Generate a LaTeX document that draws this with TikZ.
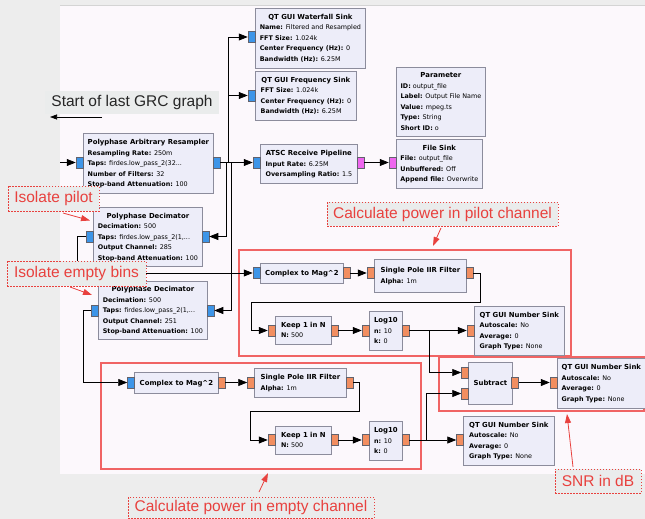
\documentclass[tikz,border=0pt]{standalone}
\usepackage{fontspec}
\setmainfont{DejaVu Sans}
\newfontfamily\annfont{Liberation Sans}
\usetikzlibrary{arrows.meta}
\definecolor{outerbg}{HTML}{EDEDED}
\definecolor{canvasbg}{HTML}{FCF8FC}
\definecolor{canvasline}{HTML}{D4D4D4}
\definecolor{blkfill}{HTML}{EDEDF9}
\definecolor{blkdraw}{HTML}{8C8C9C}
\definecolor{portblue}{HTML}{3D95E8}
\definecolor{portorange}{HTML}{F28E60}
\definecolor{portmag}{HTML}{EE66EE}
\definecolor{redbox}{HTML}{F06464}
\definecolor{redtxt}{HTML}{E8413E}
\definecolor{labelbg}{HTML}{EAECEC}
\newcommand{\ttl}[1]{\multicolumn{1}{@{}c@{}}{\fontsize{6.9}{10.5}\selectfont\bfseries #1}}
\newcommand{\prm}[2]{\textbf{#1:} #2}
\newcommand{\gblock}[5]{\node[blk, minimum width=#3pt, minimum height=#4pt] (#1) at (#2) {\begin{tabular}{@{}l@{}}#5\end{tabular}};}
\tikzset{
 blk/.style={draw=blkdraw, fill=blkfill, line width=0.8pt, inner sep=0pt, anchor=north west, font=\fontsize{6.4}{10.5}\selectfont},
 port/.style={draw=blkdraw!70!black, line width=0.5pt, minimum width=7pt, minimum height=11pt, inner sep=0pt},
 pb/.style={port, fill=portblue},
 po/.style={port, fill=portorange},
 pm/.style={port, fill=portmag},
 wire/.style={line width=0.7pt, black},
 arr/.style={wire, -{Triangle[length=9pt,width=7pt]}},
 grp/.style={draw=redbox, line width=1.2pt},
 ann/.style={draw=redtxt, dash pattern=on 1.5pt off 1.5pt, line width=0.8pt, fill=labelbg, text=redtxt, font=\annfont\fontsize{15.5}{18}\selectfont, inner sep=0pt},
 annarr/.style={redtxt, line width=0.8pt, -{Triangle[length=9pt,width=6pt]}},
}
\begin{document}
\begin{tikzpicture}[x=1pt,y=-1pt]
\useasboundingbox (0,0) rectangle (645,519);
\fill[outerbg] (0,0) rectangle (645,519);
\fill[canvasbg] (60,6) rectangle (645,474);
\draw[canvasline, line width=0.8pt] (60,5.5) -- (645,5.5);

% group boxes
\draw[grp] (239,250) rectangle (571,356);
\draw[grp] (439,357) rectangle (644,411);
\draw[grp] (101,363) rectangle (421,469);

% blocks
\gblock{wf}{255,8}{110}{60}{\ttl{QT GUI Waterfall Sink}\\ \prm{Name}{Filtered and Resampled}\\ \prm{FFT Size}{1.024k}\\ \prm{Center Frequency (Hz)}{0}\\ \prm{Bandwidth (Hz)}{6.25M}}
\gblock{fs}{255,71}{101}{49}{\ttl{QT GUI Frequency Sink}\\ \prm{FFT Size}{1.024k}\\ \prm{Center Frequency (Hz)}{0}\\ \prm{Bandwidth (Hz)}{6.25M}}
\gblock{par}{396,67}{89}{69}{\ttl{Parameter}\\ \prm{ID}{output\_file}\\ \prm{Label}{Output File Name}\\ \prm{Value}{mpeg.ts}\\ \prm{Type}{String}\\ \prm{Short ID}{o}}
\gblock{atsc}{260,144}{97}{39}{\ttl{ATSC Receive Pipeline}\\ \prm{Input Rate}{6.25M}\\ \prm{Oversampling Ratio}{1.5}}
\gblock{file}{396,139}{86}{49}{\ttl{File Sink}\\ \prm{File}{output\_file}\\ \prm{Unbuffered}{Off}\\ \prm{Append file}{Overwrite}}
\gblock{ars}{83,133}{130}{60}{\ttl{Polyphase Arbitrary Resampler}\\ \prm{Resampling Rate}{250m}\\ \prm{Taps}{firdes.low\_pass\_2(32...}\\ \prm{Number of Filters}{32}\\ \prm{Stop-band Attenuation}{100}}
\gblock{dec1}{93,207}{109}{59}{\ttl{Polyphase Decimator}\\ \prm{Decimation}{500}\\ \prm{Taps}{firdes.low\_pass\_2(1,...}\\ \prm{Output Channel}{285}\\ \prm{Stop-band Attenuation}{100}}
\gblock{dec2}{98,281}{109}{58}{\ttl{Polyphase Decimator}\\ \prm{Decimation}{500}\\ \prm{Taps}{firdes.low\_pass\_2(1,...}\\ \prm{Output Channel}{251}\\ \prm{Stop-band Attenuation}{100}}
% pilot
\gblock{c2m1}{260,263}{83}{20}{\ttl{Complex to Mag\textasciicircum2}}
\gblock{iir1}{374,259}{92}{33}{\ttl{Single Pole IIR Filter}\\ \prm{Alpha}{1m}}
\gblock{keep1}{275,316}{56}{28}{\ttl{Keep 1 in N}\\ \prm{N}{500}}
\gblock{log1}{369,311}{33}{39}{\ttl{Log10}\\ \prm{n}{10}\\ \prm{k}{0}}
\gblock{ns1}{474,306}{90}{49}{\ttl{QT GUI Number Sink}\\ \prm{Autoscale}{No}\\ \prm{Average}{0}\\ \prm{Graph Type}{None}}
% snr
\gblock{sub}{468,362}{44}{42}{\ttl{Subtract}}
\gblock{ns2}{557,358}{88}{50}{\ttl{QT GUI Number Sink}\\ \prm{Autoscale}{No}\\ \prm{Average}{0}\\ \prm{Graph Type}{None}}
% empty
\gblock{c2m2}{134,372}{84}{21}{\ttl{Complex to Mag\textasciicircum2}}
\gblock{iir2}{254,368}{92}{29}{\ttl{Single Pole IIR Filter}\\ \prm{Alpha}{1m}}
\gblock{keep2}{275,426}{56}{28}{\ttl{Keep 1 in N}\\ \prm{N}{500}}
\gblock{log2}{369,421}{33}{39}{\ttl{Log10}\\ \prm{n}{10}\\ \prm{k}{0}}
\gblock{ns3}{463,416}{91}{49}{\ttl{QT GUI Number Sink}\\ \prm{Autoscale}{No}\\ \prm{Average}{0}\\ \prm{Graph Type}{None}}

% ports
\node[pb] (wfIn) at (251.5,37) {};
\node[pb] (fsIn) at (251.5,95.5) {};
\node[pb] (atscIn) at (256.5,162.5) {};
\node[pm] (atscOut) at (360.5,162.5) {};
\node[pm] (fileIn) at (392.5,162.5) {};
\node[pb] (arsIn) at (79.5,162.5) {};
\node[pb] (arsOut) at (216.5,162.5) {};
\node[pb] (dec1L) at (89.5,236.5) {};
\node[pb] (dec1R) at (205.5,236.5) {};
\node[pb] (dec2L) at (95,310.5) {};
\node[pb] (dec2R) at (210.5,310.5) {};
\node[pb] (c2m1In) at (256.5,273) {};
\node[po] (c2m1Out) at (346.5,273) {};
\node[po] (iir1In) at (370.5,273) {};
\node[po] (iir1Out) at (469.5,273) {};
\node[po] (keep1In) at (271.5,330.5) {};
\node[po] (keep1Out) at (334.5,330.5) {};
\node[po] (log1In) at (365.5,330.5) {};
\node[po] (log1Out) at (405.5,330.5) {};
\node[po] (ns1In) at (470.5,330.5) {};
\node[po] (subIn1) at (465,372.5) {};
\node[po] (subIn2) at (465,393.5) {};
\node[po] (subOut) at (515,382.5) {};
\node[po] (ns2In) at (553.5,382.5) {};
\node[pb] (c2m2In) at (131,382.5) {};
\node[po] (c2m2Out) at (221.5,382.5) {};
\node[po] (iir2In) at (251,382.5) {};
\node[po] (iir2Out) at (349.5,382.5) {};
\node[po] (keep2In) at (271.5,440) {};
\node[po] (keep2Out) at (334.5,440) {};
\node[po] (log2In) at (365.5,440) {};
\node[po] (log2Out) at (405.5,440) {};
\node[po] (ns3In) at (460,440) {};

% wires
\coordinate (srcL) at (60,162.5);
\coordinate (j1) at (228,162.5);
\coordinate (j2) at (226,162.5);
\coordinate (j3) at (231,162.5);
\coordinate (j4) at (429,330.5);
\coordinate (j5) at (426,440);
\draw[arr] (srcL) -- (arsIn.west);
\draw[arr] (arsOut.east) -- (atscIn.west);
\draw[arr] (j1) |- (wfIn.west);
\draw[arr] (j1) |- (fsIn.west);
\draw[arr] (j2) |- (dec1R.east);
\draw[arr] (j3) |- (dec2R.east);
\draw[arr] (atscOut.east) -- (fileIn.west);
\draw[arr] (dec1L.west) -- ++(-8,0) |- (c2m1In.west);
\draw[arr] (dec2L.west) -- ++(-8,0) |- (c2m2In.west);
\draw[arr] (c2m1Out.east) -- (iir1In.west);
\draw[arr] (iir1Out.east) -| (480,302) -| (251,330.5) -- (keep1In.west);
\draw[arr] (keep1Out.east) -- (log1In.west);
\draw[arr] (log1Out.east) -- (ns1In.west);
\draw[arr] (j4) |- (subIn1.west);
\draw[arr] (subOut.east) -- (ns2In.west);
\draw[arr] (c2m2Out.east) -- (iir2In.west);
\draw[arr] (iir2Out.east) -| (359,411) -| (250,440) -- (keep2In.west);
\draw[arr] (keep2Out.east) -- (log2In.west);
\draw[wire] (log2Out.east) -- (j5);
\draw[arr] (j5) -- (ns3In.west);
\draw[arr] (j5) |- (subIn2.west);

% annotations
\node[fill=labelbg, minimum width=174pt, minimum height=23pt, inner sep=0pt, text=black!85, font=\annfont\fontsize{15.5}{18}\selectfont] (startlbl) at (132,102.5) {Start of last GRC graph};
\coordinate (startA) at (102,117);
\coordinate (startB) at (50,117);
\draw[wire, -{Triangle[length=7pt,width=5pt]}] (startA) -- (startB);

\node[ann, minimum width=91pt, minimum height=25pt] (isopilot) at (53.5,198.5) {Isolate pilot};
\node[ann, minimum width=139pt, minimum height=25pt] (isoempty) at (76.5,273.5) {Isolate empty bins};
\node[ann, minimum width=231pt, minimum height=24pt] (calcpilot) at (442.5,214) {Calculate power in pilot channel};
\node[ann, minimum width=86pt, minimum height=24pt] (snr) at (598,481) {SNR in dB};
\node[ann, minimum width=246pt, minimum height=21pt] (calcempty) at (251,507.5) {Calculate power in empty channel};

\coordinate (a1) at (63,213);
\coordinate (a1t) at (90,220.5);
\coordinate (a2) at (70,287);
\coordinate (a2t) at (92,295);
\coordinate (a3) at (441,228);
\coordinate (a3t) at (433,246);
\coordinate (a4) at (573,467);
\coordinate (a4t) at (567,414);
\coordinate (a5) at (259,492);
\coordinate (a5t) at (268,473);
\draw[annarr] (a1) -- (a1t);
\draw[annarr] (a2) -- (a2t);
\draw[annarr] (a3) -- (a3t);
\draw[annarr] (a4) -- (a4t);
\draw[annarr] (a5) -- (a5t);
\end{tikzpicture}
\end{document}
